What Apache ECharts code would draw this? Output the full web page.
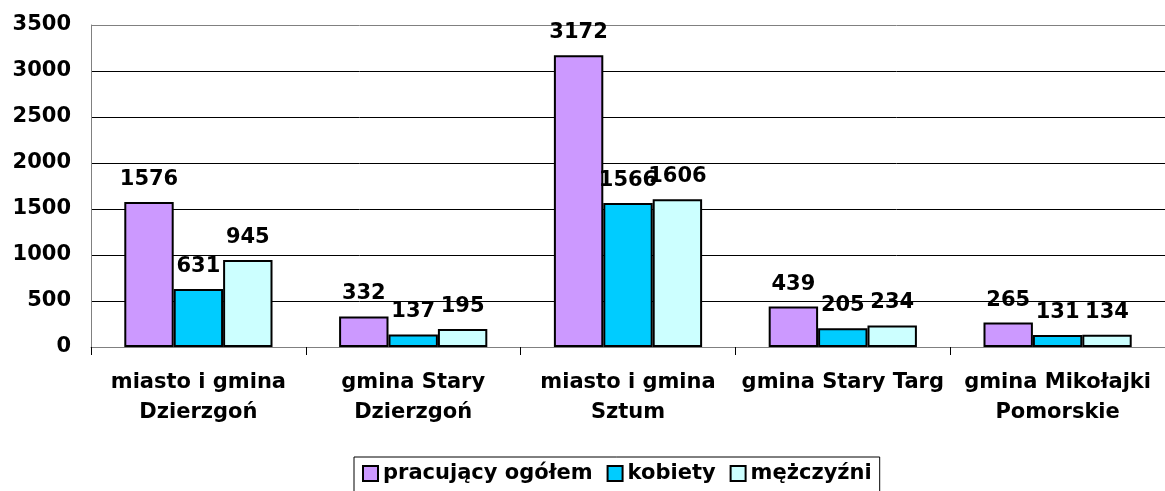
<!DOCTYPE html>
<html>
<head>
<meta charset="utf-8">
<script src="https://cdn.jsdelivr.net/npm/echarts@6/dist/echarts.min.js"></script>
<style>
	html,body{margin:0;padding:0;background:#fff;}
	#chart{width:1165px;height:491px;}
</style>
</head>
<body>
<div id="chart"></div>
<script>
	// dane z wykresu
	var categories=["miasto i gmina\nDzierzgoń","gmina Stary\nDzierzgoń","miasto i gmina\nSztum","gmina Stary Targ","gmina Mikołajki\nPomorskie"];
	var seriesNames=["pracujący ogółem","kobiety","mężczyźni"];
	var ogolem=[1576,332,3172,439,265];
	var kobiety=[631,137,1566,205,131];
	var mezczyzni=[945,195,1606,234,134];
	var yTicks=[0,500,1000,1500,2000,2500,3000,3500];

	var defColor=['#CC99FF','#00CCFF','#CCFFFF'];
	var font='"DejaVu Sans", Verdana, sans-serif';

	var chart=echarts.init(document.getElementById('chart'));

	function makeSeries(name,data,idx){
		return {
			name:name,
			type:'bar',
			data:data,
			barGap:'0%',
			barCategoryGap:'31%',
			itemStyle:{color:defColor[idx],borderColor:'#000',borderWidth:2},
			label:{
				show:true,
				position:'top',
				distance:12,
				fontFamily:font,
				fontWeight:'bold',
				fontSize:21,
				color:'#000'
			}
		};
	}

	chart.setOption({
		animation:false,
		color:defColor,
		grid:{left:91,top:25,right:0,bottom:144},
		legend:{
			left:354,
			top:457,
			padding:[6,8,12,8],
			itemGap:14,
			icon:'rect',
			itemWidth:15,
			itemHeight:15,
			borderColor:'#000',
			borderWidth:1,
			data:seriesNames,
			textStyle:{fontFamily:font,fontWeight:'bold',fontSize:21,color:'#000'}
		},
		xAxis:{
			type:'category',
			data:categories,
			axisLine:{lineStyle:{color:'#808080',width:1}},
			axisTick:{show:true,length:8,lineStyle:{color:'#000'}},
			axisLabel:{
				interval:0,
				margin:21,
				fontFamily:font,
				fontWeight:'bold',
				fontSize:21,
				lineHeight:30,
				color:'#000'
			}
		},
		yAxis:{
			type:'value',
			min:yTicks[0],
			max:yTicks[yTicks.length-1],
			interval:500,
			axisLine:{show:true,lineStyle:{color:'#808080',width:1}},
			axisTick:{show:false},
			axisLabel:{
				margin:20,fontFamily:font,fontWeight:'bold',fontSize:21,color:'#000',
				formatter:function(v){return String(v);}
			},
			splitLine:{lineStyle:{color:['#808080','#000','#000','#000','#000','#000','#000','#808080'],width:1}}
		},
		series:[
			makeSeries(seriesNames[0],ogolem,0),
			makeSeries(seriesNames[1],kobiety,1),
			makeSeries(seriesNames[2],mezczyzni,2)
		]
	});
</script>
</body>
</html>
